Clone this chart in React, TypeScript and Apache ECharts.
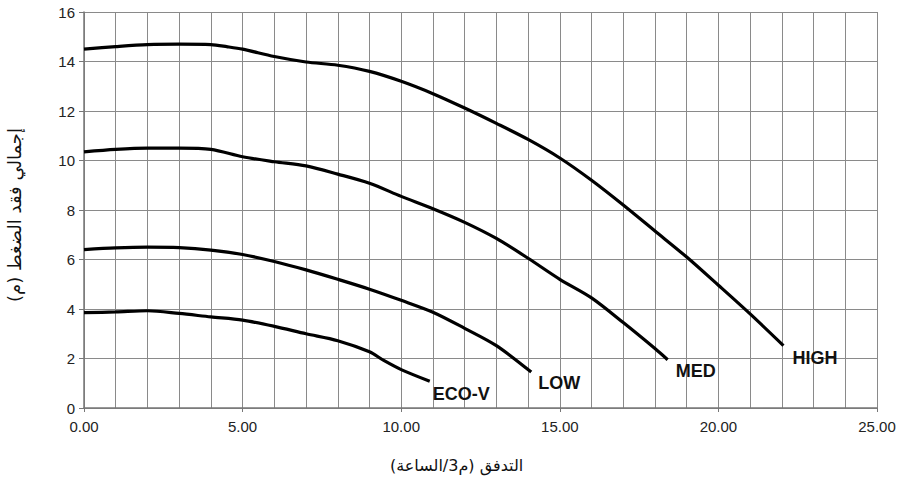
import React, { useEffect, useRef } from "react";
import * as echarts from "echarts";

const seriesNames = ["HIGH", "MED", "LOW", "ECO-V"];

const highData: [number, number][] = [
  [0, 14.5], [1, 14.6], [2, 14.68], [3, 14.7], [4, 14.68], [4.5, 14.6], [5, 14.5],
  [6, 14.2], [7, 13.98], [8, 13.85], [9, 13.6], [10, 13.2], [11, 12.7], [12, 12.12],
  [13, 11.5], [14, 10.85], [15, 10.1], [16, 9.2], [17, 8.2], [18, 7.15], [19, 6.1],
  [20, 4.96], [21, 3.8], [22.05, 2.52],
];
const medData: [number, number][] = [
  [0, 10.35], [1, 10.45], [2, 10.5], [3, 10.5], [4, 10.45], [5, 10.15], [6, 9.95],
  [7, 9.78], [8, 9.45], [9, 9.08], [10, 8.55], [11, 8.05], [12, 7.5], [13, 6.85],
  [14, 6.05], [15, 5.2], [16, 4.45], [17, 3.45], [18, 2.4], [18.4, 1.95],
];
const lowData: [number, number][] = [
  [0, 6.4], [1, 6.47], [2, 6.5], [3, 6.48], [4, 6.38], [5, 6.2], [6, 5.92], [7, 5.58],
  [8, 5.2], [9, 4.8], [10, 4.35], [11, 3.87], [12, 3.22], [13, 2.52], [14.1, 1.45],
];
const ecoData: [number, number][] = [
  [0, 3.85], [1, 3.88], [2, 3.93], [3, 3.82], [4, 3.68], [5, 3.55], [6, 3.3], [7, 3.0],
  [8, 2.72], [9, 2.27], [9.45, 1.92], [10, 1.55], [10.9, 1.08],
];

const xAxisTitle = "\u200Fالتدفق (م3/الساعة)\u200F";
const yAxisTitle = "\u200Fإجمالي فقد الضغط (م)\u200F";

const labelOffsets: [number, number][] = [
  [1, 12],
  [0, 11],
  [-1, 11],
  [-5, 13],
];

export default function App() {
  const ref = useRef<HTMLDivElement>(null);
  useEffect(() => {
    if (!ref.current) return;
    const chart = echarts.init(ref.current, undefined, { renderer: "svg" });
    const datas = [highData, medData, lowData, ecoData];
    chart.setOption({
      animation: false,
      backgroundColor: "#ffffff",
      grid: { left: 84, right: 33, top: 12, bottom: 78, containLabel: false },
      graphic: [
        {
          type: "text",
          left: 460 - 70,
          top: 457,
          style: {
            text: xAxisTitle,
            fontSize: 16,
            fill: "#111",
            fontFamily: "DejaVu Sans, sans-serif",
            width: 140,
            align: "center",
          },
        },
        {
          type: "text",
          x: 14,
          y: 215,
          rotation: Math.PI / 2,
          style: {
            text: yAxisTitle,
            fontSize: 18,
            fill: "#111",
            fontFamily: "DejaVu Sans, sans-serif",
            align: "center",
            verticalAlign: "middle",
          },
        },
      ],
      xAxis: {
        type: "value",
        min: 0,
        max: 25,
        interval: 5,
        axisLine: { show: true, lineStyle: { color: "#777", width: 1.5 } },
        axisTick: { show: true, length: 4, lineStyle: { color: "#777" } },
        axisLabel: {
          formatter: (v: number) => v.toFixed(2),
          fontSize: 15,
          color: "#222",
          fontFamily: "Liberation Sans, Arial, sans-serif",
          margin: 11,
        },
        splitLine: { show: true, lineStyle: { color: "#8a8a8a", width: 1 } },
        minorTick: { show: false, splitNumber: 5 },
        minorSplitLine: { show: true, lineStyle: { color: "#8a8a8a", width: 1 } },
      },
      yAxis: {
        type: "value",
        min: 0,
        max: 16,
        interval: 2,
        axisLine: { show: true, lineStyle: { color: "#777", width: 1.5 } },
        axisTick: { show: true, length: 5, lineStyle: { color: "#777" } },
        axisLabel: {
          fontSize: 15,
          color: "#222",
          fontFamily: "Liberation Sans, Arial, sans-serif",
          margin: 9,
        },
        splitLine: { show: true, lineStyle: { color: "#8a8a8a", width: 1 } },
      },
      series: seriesNames.map((name, i) => ({
        name,
        type: "line",
        data: datas[i],
        smooth: 0.3,
        showSymbol: false,
        symbol: "none",
        lineStyle: { color: "#000", width: 3.2 },
        endLabel: {
          show: true,
          formatter: name,
          fontSize: 18,
          fontWeight: "bold",
          color: "#111",
          fontFamily: "Liberation Sans, Arial, sans-serif",
          offset: labelOffsets[i],
          align: "left",
          verticalAlign: "middle",
        },
      })),
    });
    return () => chart.dispose();
  }, []);
  return <div ref={ref} style={{ width: 910, height: 486, position: "absolute", left: 0, top: 0 }} />;
}
